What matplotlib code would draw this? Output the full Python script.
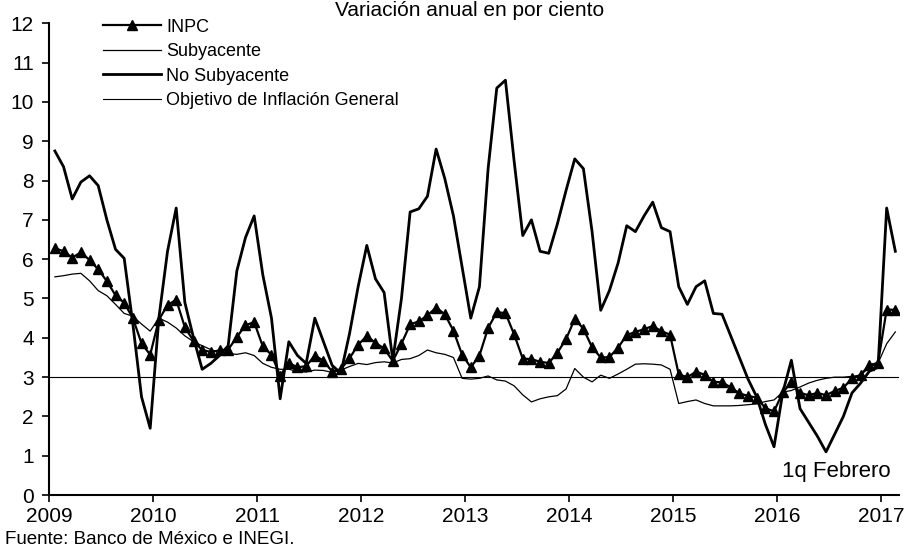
import matplotlib
matplotlib.use('Agg')
import matplotlib.pyplot as plt
import numpy as np

plt.rcParams['font.family'] = ['Liberation Sans', 'DejaVu Sans']

# monthly annual inflation, Jan 2009 - Feb 2017 (1q)
inpc = [6.28, 6.20, 6.04, 6.17, 5.98, 5.74, 5.44, 5.08, 4.89, 4.50, 3.86, 3.57,
        4.46, 4.83, 4.97, 4.27, 3.92, 3.69, 3.64, 3.68, 3.70, 4.02, 4.32, 4.40,
        3.78, 3.57, 3.04, 3.36, 3.25, 3.28, 3.55, 3.42, 3.14, 3.20, 3.48, 3.82,
        4.05, 3.87, 3.73, 3.41, 3.85, 4.34, 4.42, 4.57, 4.77, 4.60, 4.18, 3.57,
        3.25, 3.55, 4.25, 4.65, 4.63, 4.09, 3.47, 3.46, 3.39, 3.36, 3.62, 3.97,
        4.48, 4.23, 3.76, 3.50, 3.51, 3.75, 4.07, 4.15, 4.22, 4.30, 4.17, 4.08,
        3.07, 3.00, 3.14, 3.06, 2.88, 2.87, 2.74, 2.59, 2.52, 2.48, 2.21, 2.13,
        2.61, 2.87, 2.60, 2.54, 2.60, 2.54, 2.65, 2.73, 2.97, 3.06, 3.31, 3.36,
        4.72, 4.71]

subyacente = [5.55, 5.58, 5.62, 5.64, 5.45, 5.20, 5.07, 4.85, 4.62, 4.55, 4.35, 4.17,
              4.50, 4.40, 4.25, 4.05, 3.90, 3.80, 3.70, 3.62, 3.60, 3.58, 3.62, 3.55,
              3.35, 3.25, 3.20, 3.20, 3.15, 3.13, 3.18, 3.17, 3.12, 3.18, 3.27, 3.35,
              3.32, 3.37, 3.39, 3.36, 3.45, 3.47, 3.55, 3.69, 3.62, 3.58, 3.50, 2.97,
              2.95, 2.97, 3.03, 2.93, 2.90, 2.78, 2.55, 2.37, 2.45, 2.50, 2.53, 2.70,
              3.22, 3.00, 2.88, 3.05, 2.97, 3.08, 3.20, 3.33, 3.34, 3.33, 3.31, 3.20,
              2.33, 2.38, 2.42, 2.33, 2.27, 2.27, 2.27, 2.28, 2.30, 2.32, 2.38, 2.42,
              2.62, 2.66, 2.75, 2.85, 2.92, 2.97, 3.00, 3.00, 3.02, 3.05, 3.25, 3.35,
              3.85, 4.15]

no_subyacente = [8.75, 8.35, 7.53, 7.96, 8.12, 7.87, 7.00, 6.25, 6.02, 4.35, 2.50, 1.70,
                 4.50, 6.20, 7.30, 4.90, 4.00, 3.20, 3.35, 3.55, 3.80, 5.70, 6.55, 7.10,
                 5.60, 4.50, 2.45, 3.90, 3.55, 3.35, 4.50, 3.90, 3.30, 3.10, 4.10, 5.30,
                 6.35, 5.50, 5.15, 3.43, 5.00, 7.20, 7.28, 7.60, 8.80, 8.05, 7.10, 5.80,
                 4.50, 5.30, 8.30, 10.35, 10.55, 8.50, 6.60, 7.00, 6.20, 6.15, 6.90, 7.75,
                 8.55, 8.30, 6.70, 4.70, 5.20, 5.90, 6.85, 6.70, 7.10, 7.45, 6.80, 6.70,
                 5.30, 4.85, 5.30, 5.45, 4.62, 4.60, 4.05, 3.50, 2.95, 2.50, 1.80, 1.23,
                 2.60, 3.43, 2.20, 1.85, 1.50, 1.10, 1.55, 2.00, 2.60, 2.85, 3.15, 3.25,
                 7.30, 6.20]

objetivo = 3.0
years = ['2009', '2010', '2011', '2012', '2013', '2014', '2015', '2016', '2017']

x = np.arange(len(inpc)) + 0.65  # mid-month position, ticks at January

fig = plt.figure(figsize=(9.12, 5.52), dpi=100)
ax = fig.add_axes([0.054, 0.103, 0.932, 0.855])

ax.plot(x, inpc, color='black', lw=1.6, marker='^', ms=7, label='INPC')
ax.plot(x, subyacente, color='black', lw=0.9, label='Subyacente')
ax.plot(x, no_subyacente, color='black', lw=2.0, label='No Subyacente')
ax.axhline(objetivo, color='black', lw=0.8, label='Objetivo de Inflación General')

ax.set_xlim(0, 98.1)
ax.set_ylim(0, 12)
ax.set_xticks(np.arange(len(years)) * 12)
ax.set_xticklabels(years)
ax.set_yticks(range(13))

for s in ['top', 'right']:
    ax.spines[s].set_visible(False)
ax.spines['left'].set_linewidth(1.5)
ax.spines['bottom'].set_linewidth(1.5)
ax.tick_params(axis='both', labelsize=15, length=5, width=1.2)
ax.tick_params(axis='y', pad=6)

ax.legend(loc='upper left', bbox_to_anchor=(0.055, 1.025), frameon=False,
          fontsize=13, handlelength=3.2, handletextpad=0.3, labelspacing=0.42,
          borderaxespad=0)

ax.text(0.99, 0.05, '1q Febrero', transform=ax.transAxes, ha='right', va='center',
        fontsize=16)
fig.text(0.515, 0.998, 'Variación anual en por ciento', ha='center', va='top',
         fontsize=15)
fig.text(0.006, 0.008, 'Fuente: Banco de México e INEGI.', ha='left', va='bottom',
         fontsize=13.5)

fig.savefig('out.png', dpi=100)
